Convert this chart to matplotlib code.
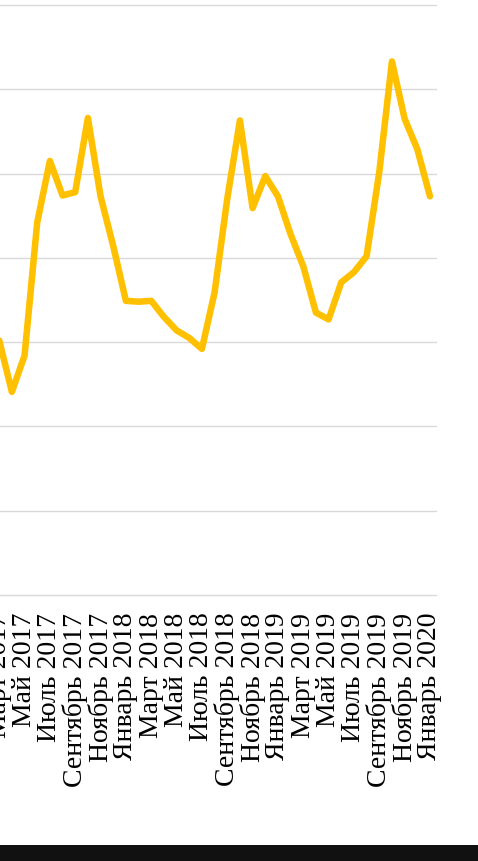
import numpy as np
import matplotlib.pyplot as plt
from matplotlib.patches import Rectangle

# monthly values, Mar 2017 .. Jan 2020
months = ["Март 2017", "Апрель 2017", "Май 2017", "Июнь 2017", "Июль 2017",
          "Август 2017", "Сентябрь 2017", "Октябрь 2017", "Ноябрь 2017",
          "Декабрь 2017", "Январь 2018", "Февраль 2018", "Март 2018",
          "Апрель 2018", "Май 2018", "Июнь 2018", "Июль 2018", "Август 2018",
          "Сентябрь 2018", "Октябрь 2018", "Ноябрь 2018", "Декабрь 2018",
          "Январь 2019", "Февраль 2019", "Март 2019", "Апрель 2019",
          "Май 2019", "Июнь 2019", "Июль 2019", "Август 2019",
          "Сентябрь 2019", "Октябрь 2019", "Ноябрь 2019", "Декабрь 2019",
          "Январь 2020"]
values = [30.2, 24.1, 28.4, 44.2, 51.5, 47.4, 47.8, 56.6, 47.3, 41.4,
          34.9, 34.8, 34.9, 33.0, 31.4, 30.5, 29.2, 35.9, 47.0, 56.3,
          45.9, 49.7, 47.3, 42.8, 39.0, 33.5, 32.7, 37.1, 38.3, 40.2,
          50.2, 63.3, 56.5, 52.9, 47.3]

plt.rcParams['font.family'] = ['Liberation Serif', 'DejaVu Serif']

W, H = 478, 862
fig = plt.figure(figsize=(W / 100, H / 100), dpi=100)

# axes run past the left edge of the picture (chart is cropped there)
left_px, right_px = -47.8, 436.3
top_px, bottom_px = 6, 596
ax = fig.add_axes([left_px / W, 1 - bottom_px / H,
                   (right_px - left_px) / W, (bottom_px - top_px) / H])

x = np.arange(len(months))
ax.plot(x, values, color="#FFC000", linewidth=4.7,
        solid_joinstyle="round", solid_capstyle="round", zorder=3)

ax.set_xlim(-3.71, len(months) - 0.5)
ax.set_ylim(0, 70)
ax.set_yticks(np.arange(0, 71, 10))
ax.set_yticklabels([])
ax.grid(axis="y", color="#d9d9d9", linewidth=1)
for gl in ax.get_ygridlines():
    gl.set_clip_on(False)
ax.set_axisbelow(True)
for s in ax.spines.values():
    s.set_visible(False)

ax.set_xticks(x[::2])
ax.set_xticklabels(months[::2], rotation=90, fontsize=20)
ax.tick_params(axis="x", length=0, pad=12)
ax.tick_params(axis="y", length=0)

# dark strip at the bottom of the screenshot
fig.patches.append(Rectangle((0, 0), 1, 16 / H, transform=fig.transFigure,
                             facecolor="#111111", edgecolor="none"))

fig.savefig("out.png", dpi=100)
